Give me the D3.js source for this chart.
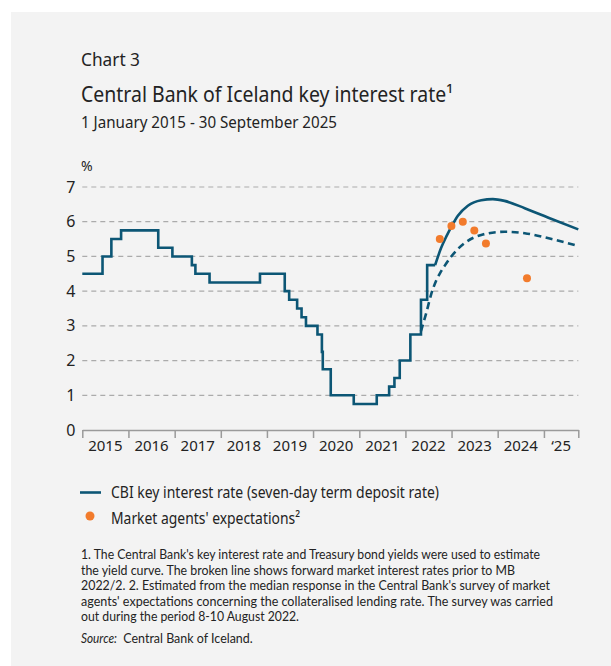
<!DOCTYPE html>
<html>
<head>
<meta charset="utf-8">
<script src="https://cdn.jsdelivr.net/npm/d3@7"></script>
<style>
  body { margin: 0; background: #ffffff; }
  text { font-family: "Noto Sans", "Open Sans", sans-serif; fill: #232323; }
  .note { font-family: Lato, "Noto Sans", sans-serif; }
</style>
</head>
<body>
<div id="chart"></div>
<script>
var width = 611;
var height = 666;

// key interest rate, step changes
var rateDates = ["2015-01-01","2015-06-10","2015-08-19","2015-11-04","2016-08-24","2016-12-14","2017-05-17","2017-06-14","2017-10-04","2018-11-07","2019-05-22","2019-06-26","2019-08-28","2019-10-02","2019-11-06","2020-02-05","2020-03-11","2020-03-18","2020-05-20","2020-11-18","2021-05-19","2021-08-25","2021-10-06","2021-11-17","2022-02-09","2022-05-04","2022-06-22"];
var rateValues = [4.5,5.0,5.5,5.75,5.25,5.0,4.75,4.5,4.25,4.5,4.0,3.75,3.5,3.25,3.0,2.75,2.25,1.75,1.0,0.75,1.0,1.25,1.5,2.0,2.75,3.75,4.75];

// forward market rates (solid, current)
var fwdDates = ["2022-08-24","2022-10-10","2022-11-20","2023-01-08","2023-02-20","2023-05-10","2023-08-24","2023-11-24","2024-02-24","2024-08-02","2025-03-03","2025-09-30"];
var fwdValues = [4.75,5.24,5.57,5.91,6.17,6.46,6.62,6.65,6.60,6.39,6.08,5.78];

// forward market rates prior to MB 2022/2 (broken line)
var prevDates = ["2022-05-04","2022-06-14","2022-07-23","2022-09-01","2022-10-02","2022-11-06","2022-12-28","2023-04-13","2023-08-24","2024-02-24","2024-08-02","2025-03-03","2025-09-30"];
var prevValues = [2.85,3.36,3.9,4.3,4.52,4.72,4.99,5.38,5.62,5.71,5.67,5.50,5.30];

// market agents' expectations
var surveyDates = ["2022-09-30","2022-12-31","2023-03-31","2023-06-30","2023-09-30","2024-08-20"];
var surveyValues = [5.5,5.875,6.0,5.75,5.375,4.375];

var yTicks = [0,1,2,3,4,5,6,7];
var yearLabels = ["2015","2016","2017","2018","2019","2020","2021","2022","2023","2024","\u201825"];

var footnotes = [
  ["1. The Central Bank's key interest rate and Treasury bond yields were used to estimate", 459],
  ["the yield curve. The broken line shows forward market interest rates prior to MB", 434],
  ["2022/2. 2. Estimated from the median response in the Central Bank's survey of market", 469],
  ["agents' expectations concerning the collateralised lending rate. The survey was carried", 472],
  ["out during the period 8-10 August 2022.", 218]
];

var parse = d3.timeParse("%Y-%m-%d");
var blue = "#0c5675";
var orange = "#f27b2c";

var svg = d3.select("#chart")
  .append("svg")
  .attr("width", width)
  .attr("height", height);

svg.append("rect")
  .attr("x", 11)
  .attr("y", 12)
  .attr("width", width - 11)
  .attr("height", height - 12)
  .style("fill", "#f3f3f3");

svg.append("text")
  .attr("x", 81).attr("y", 65.5)
  .attr("font-size", "18.5px")
  .attr("textLength", 59).attr("lengthAdjust", "spacingAndGlyphs")
  .text("Chart 3");

svg.append("text")
  .attr("x", 81).attr("y", 101.5)
  .attr("font-size", "21px")
  .attr("textLength", 372).attr("lengthAdjust", "spacingAndGlyphs")
  .text("Central Bank of Iceland key interest rate\u00b9");

svg.append("text")
  .attr("x", 81).attr("y", 127.5)
  .attr("font-size", "15.5px")
  .attr("textLength", 256).attr("lengthAdjust", "spacingAndGlyphs")
  .text("1 January 2015 - 30 September 2025");

var x = d3.scaleTime()
  .domain([parse("2015-01-01"), parse("2025-09-30")])
  .range([82.3, 578.3]);

var y = d3.scaleLinear()
  .domain([0, 7])
  .range([430, 187]);

// gridlines
svg.append("g")
  .selectAll("line")
  .data(yTicks.filter(function(d) { return d > 0; }))
  .enter()
  .append("line")
  .attr("x1", x.range()[0])
  .attr("x2", x.range()[1])
  .attr("y1", function(d) { return y(d); })
  .attr("y2", function(d) { return y(d); })
  .style("stroke", "#ababab")
  .style("stroke-width", 1.2)
  .style("stroke-dasharray", "5,4");

svg.append("g")
  .selectAll("text")
  .data(yTicks)
  .enter()
  .append("text")
  .attr("x", 75.5)
  .attr("y", function(d) { return y(d) + 5.5; })
  .attr("text-anchor", "end")
  .attr("font-size", "16px")
  .text(function(d) { return d; });

svg.append("text")
  .attr("x", 81).attr("y", 171)
  .attr("font-size", "14px")
  .text("%");

// x axis: ticks at year starts, labels centred in each year
var yearStarts = d3.range(2015, 2026).map(function(d) { return new Date(d, 0, 1); });
var xAxis = d3.axisBottom(x)
  .tickValues(yearStarts.concat([x.domain()[1]]))
  .tickSize(8)
  .tickSizeOuter(0)
  .tickFormat("");

var gx = svg.append("g")
  .attr("transform", "translate(0,430)")
  .call(xAxis);
gx.select(".domain").style("stroke", "#9a9a9a").style("stroke-width", 1.5);
gx.selectAll(".tick line").style("stroke", "#9a9a9a").style("stroke-width", 1.5);

svg.append("g")
  .selectAll("text")
  .data(yearLabels)
  .enter()
  .append("text")
  .attr("x", function(d, i) {
    var a = x(yearStarts[i]);
    var b = i < yearStarts.length - 1 ? x(yearStarts[i + 1]) : x.range()[1];
    return (a + b) / 2;
  })
  .attr("y", 451)
  .attr("text-anchor", "middle")
  .attr("font-size", "15px")
  .text(function(d) { return d; });

// lines
var rateData = rateDates.map(function(d, i) { return {date: parse(d), value: rateValues[i]}; });
rateData.push({date: parse("2022-08-24"), value: 4.75});
var fwdData = fwdDates.map(function(d, i) { return {date: parse(d), value: fwdValues[i]}; });
var prevData = prevDates.map(function(d, i) { return {date: parse(d), value: prevValues[i]}; });

var stepLine = d3.line()
  .x(function(d) { return x(d.date); })
  .y(function(d) { return y(d.value); })
  .curve(d3.curveStepAfter);

var smoothLine = d3.line()
  .x(function(d) { return x(d.date); })
  .y(function(d) { return y(d.value); })
  .curve(d3.curveMonotoneX);

svg.append("path")
  .attr("d", smoothLine(prevData))
  .style("fill", "none")
  .style("stroke", blue)
  .style("stroke-width", 2.6)
  .style("stroke-dasharray", "7,4.5");

svg.append("path")
  .attr("d", stepLine(rateData))
  .style("fill", "none")
  .style("stroke", blue)
  .style("stroke-width", 2.6)
  .style("stroke-linejoin", "miter");

svg.append("path")
  .attr("d", smoothLine(fwdData))
  .style("fill", "none")
  .style("stroke", blue)
  .style("stroke-width", 2.6);

svg.append("g")
  .selectAll("circle")
  .data(surveyDates)
  .enter()
  .append("circle")
  .attr("cx", function(d) { return x(parse(d)); })
  .attr("cy", function(d, i) { return y(surveyValues[i]); })
  .attr("r", 4)
  .style("fill", orange);

// legend
svg.append("line")
  .attr("x1", 80).attr("x2", 101)
  .attr("y1", 492.5).attr("y2", 492.5)
  .style("stroke", blue)
  .style("stroke-width", 2.6);

svg.append("text")
  .attr("x", 111).attr("y", 497.5)
  .attr("font-size", "16px")
  .attr("textLength", 328).attr("lengthAdjust", "spacingAndGlyphs")
  .text("CBI key interest rate (seven-day term deposit rate)");

svg.append("circle")
  .attr("cx", 90).attr("cy", 516)
  .attr("r", 4.5)
  .style("fill", orange);

svg.append("text")
  .attr("x", 111).attr("y", 523.5)
  .attr("font-size", "16px")
  .attr("textLength", 189).attr("lengthAdjust", "spacingAndGlyphs")
  .text("Market agents' expectations\u00b2");

// footnotes
svg.append("g")
  .selectAll("text")
  .data(footnotes)
  .enter()
  .append("text")
  .attr("class", "note")
  .attr("x", 81)
  .attr("y", function(d, i) { return 559 + i * 15.6; })
  .attr("font-size", "12.9px")
  .attr("textLength", function(d) { return d[1]; })
  .attr("lengthAdjust", "spacingAndGlyphs")
  .text(function(d) { return d[0]; });

svg.append("text")
  .attr("class", "note")
  .attr("x", 81).attr("y", 642.5)
  .attr("font-size", "12.9px")
  .attr("font-style", "italic")
  .attr("textLength", 36).attr("lengthAdjust", "spacingAndGlyphs")
  .text("Source:");

svg.append("text")
  .attr("class", "note")
  .attr("x", 123.3).attr("y", 642.5)
  .attr("font-size", "12.9px")
  .attr("textLength", 129.4).attr("lengthAdjust", "spacingAndGlyphs")
  .text("Central Bank of Iceland.");
</script>
</body>
</html>
